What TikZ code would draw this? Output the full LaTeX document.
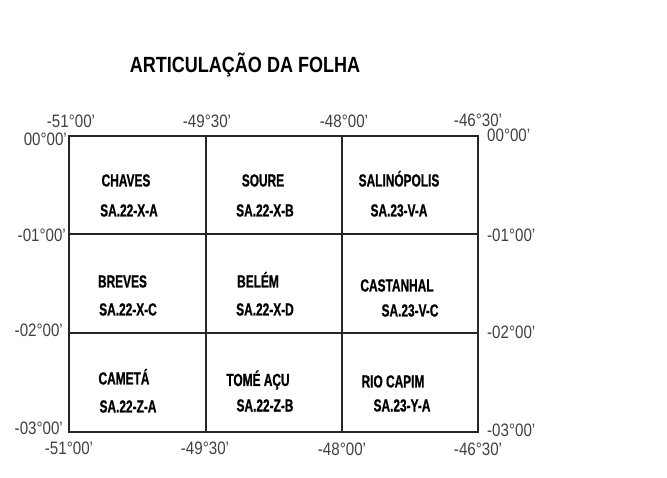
\documentclass[tikz,border=0pt]{standalone}
\usepackage{fontspec}
\setmainfont{Liberation Sans}
\newfontfamily\titlefont[FakeStretch=0.82]{Liberation Sans}
\newfontfamily\sheetfont[FakeStretch=0.68,FakeBold=0.8]{Liberation Sans}
\newfontfamily\gridfont[FakeStretch=0.84]{Liberation Sans}

\tikzset{
  sheetname/.style={anchor=base, inner sep=0pt, text=black,
    font=\sheetfont\bfseries\fontsize{17.5}{17.5}\selectfont},
  gridlabel/.style={anchor=base, inner sep=0pt, text=black!75,
    font=\gridfont\fontsize{18}{18}\selectfont},
  gridline/.style={draw=black!85, line width=1.1pt}
}

\begin{document}
\begin{tikzpicture}[x=1pt,y=-1pt]
  \useasboundingbox (0,0) rectangle (667,478);

  \node (title) [anchor=base, inner sep=0pt, font=\titlefont\bfseries\fontsize{22}{22}\selectfont]
    at (245,73) {ARTICULAÇÃO DA FOLHA};

  % grid corners
  \coordinate (nw) at (69,136);
  \coordinate (se) at (478,432);

  \draw [gridline] (nw) rectangle (se);
  \draw [gridline] (206,136) -- (206,432);
  \draw [gridline] (342,136) -- (342,432);
  \draw [gridline] (69,234) -- (478,234);
  \draw [gridline] (69,333) -- (478,333);
  \draw [gridline, line width=1.6pt] (206,234) rectangle (342,333);

  % longitudes
  \node (lontopa) [gridlabel] at (71,128) {-51°00’};
  \node (lontopb) [gridlabel] at (207,128) {-49°30’};
  \node (lontopc) [gridlabel] at (344,128) {-48°00’};
  \node (lontopd) [gridlabel] at (478,127) {-46°30’};
  \node (lonbota) [gridlabel] at (69,454) {-51°00’};
  \node (lonbotb) [gridlabel] at (205,454) {-49°30’};
  \node (lonbotc) [gridlabel] at (342,455) {-48°00’};
  \node (lonbotd) [gridlabel] at (478,455) {-46°30’};

  % latitudes
  \node (latlefta) [gridlabel, anchor=base east] at (67,146) {00°00’};
  \node (latleftb) [gridlabel, anchor=base east] at (66,242) {-01°00’};
  \node (latleftc) [gridlabel, anchor=base east] at (63,337) {-02°00’};
  \node (latleftd) [gridlabel, anchor=base east] at (63,434) {-03°00’};
  \node (latrighta) [gridlabel, anchor=base west] at (487,142) {00°00’};
  \node (latrightb) [gridlabel, anchor=base west] at (487,242) {-01°00’};
  \node (latrightc) [gridlabel, anchor=base west] at (487,339) {-02°00’};
  \node (latrightd) [gridlabel, anchor=base west] at (487,436) {-03°00’};

  % sheets
  \node (chaves) [sheetname] at (126,186.5) {CHAVES};
  \node (chavescode) [sheetname] at (129,216.5) {SA.22-X-A};
  \node (soure) [sheetname] at (263,186.5) {SOURE};
  \node (sourecode) [sheetname] at (265,216.5) {SA.22-X-B};
  \node (salinopolis) [sheetname] at (399,186.5) {SALINÓPOLIS};
  \node (salinopoliscode) [sheetname] at (399,216.5) {SA.23-V-A};

  \node (breves) [sheetname] at (122.5,287.5) {BREVES};
  \node (brevescode) [sheetname] at (128,315.5) {SA.22-X-C};
  \node (belem) [sheetname] at (258,287.5) {BELÉM};
  \node (belemcode) [sheetname] at (265,315.5) {SA.22-X-D};
  \node (castanhal) [sheetname] at (397,291.5) {CASTANHAL};
  \node (castanhalcode) [sheetname] at (410,316.5) {SA.23-V-C};

  \node (cameta) [sheetname] at (124,384.5) {CAMETÁ};
  \node (cametacode) [sheetname] at (128,412.5) {SA.22-Z-A};
  \node (tomeacu) [sheetname] at (258,386) {TOMÉ AÇU};
  \node (tomeacucode) [sheetname] at (265,411.5) {SA.22-Z-B};
  \node (riocapim) [sheetname] at (393,387.5) {RIO CAPIM};
  \node (riocapimcode) [sheetname] at (402,411.5) {SA.23-Y-A};
\end{tikzpicture}
\end{document}
